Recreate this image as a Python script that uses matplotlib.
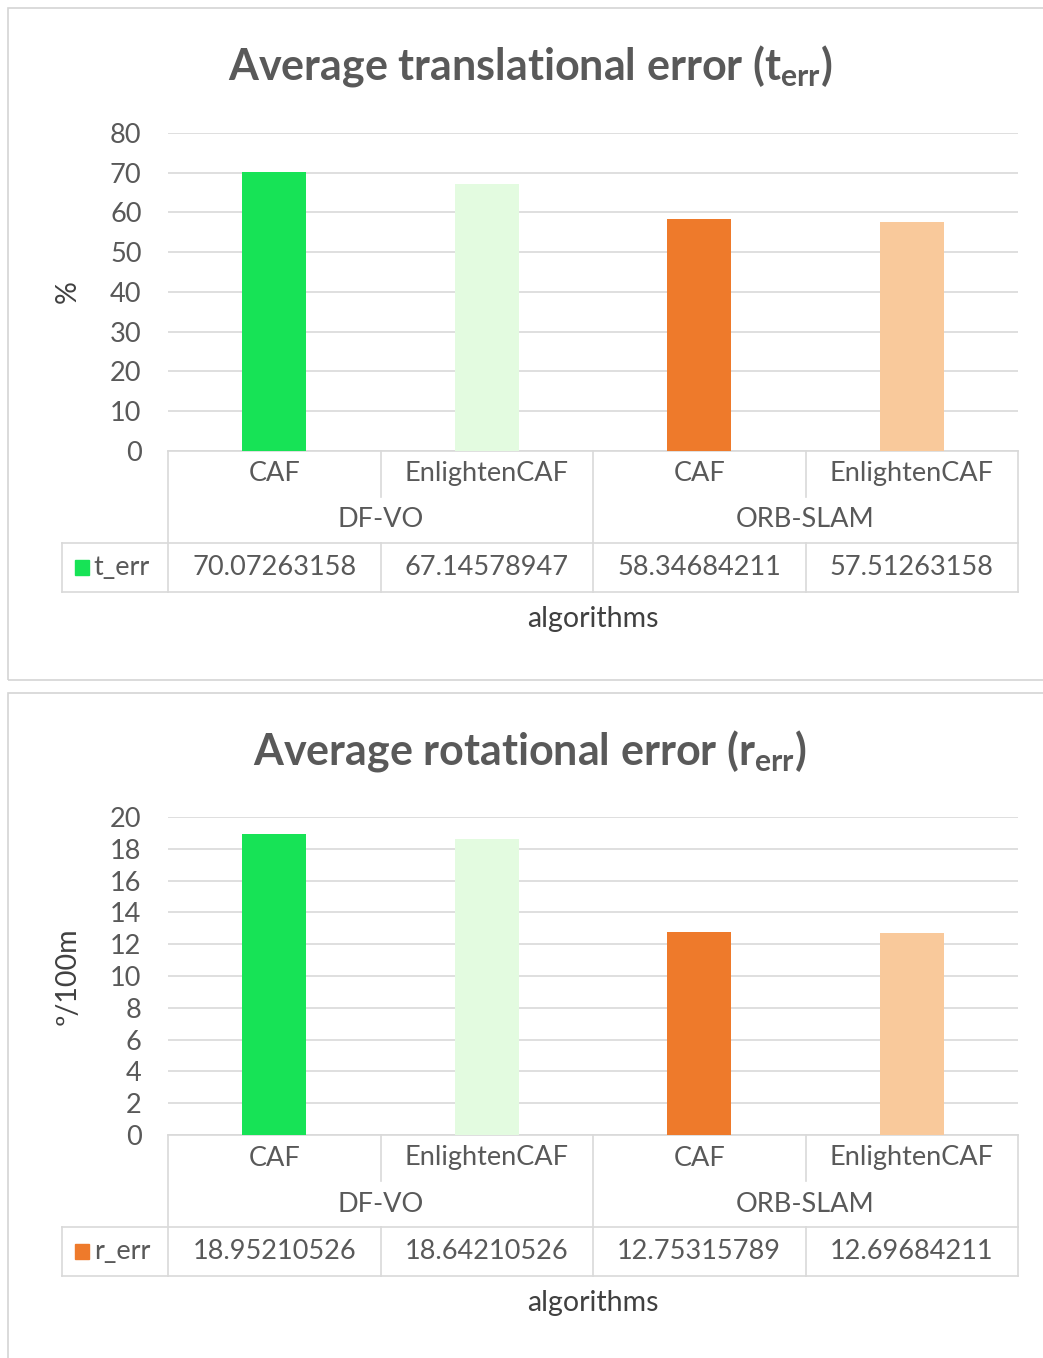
import matplotlib.pyplot as plt
from matplotlib.patches import Rectangle
from matplotlib.transforms import blended_transform_factory

plt.rcParams['font.family'] = ['Lato', 'DejaVu Sans']
plt.rcParams['mathtext.fontset'] = 'custom'
plt.rcParams['mathtext.rm'] = 'Lato'
plt.rcParams['mathtext.bf'] = 'Lato:bold'

models = ['CAF', 'EnlightenCAF', 'CAF', 'EnlightenCAF']
groups = ['DF-VO', 'ORB-SLAM']
t_err = [70.07263158, 67.14578947, 58.34684211, 57.51263158]
r_err = [18.95210526, 18.64210526, 12.75315789, 12.69684211]

green_colors = ['#17E356', '#E3FBE0']
orange_colors = ['#EE7A2B', '#F9C99B']
bar_colors = green_colors + orange_colors

TEXT = '#595959'
GRID = '#D9D9D9'
FS = 19.5

W, H = 1043, 1358
fig = plt.figure(figsize=(W / 100, H / 100), dpi=100)

# outer chart frames
for (x0, y0, x1, y1) in [(8, 8, 1060, 680), (8, 693, 1060, 1380)]:
    fig.patches.append(Rectangle((x0 / W, 1 - y1 / H), (x1 - x0) / W, (y1 - y0) / H,
                                 transform=fig.transFigure, fill=False,
                                 edgecolor='#D4D4D4', lw=1.2, clip_on=False))


def panel(top_px, title, ylabel, values, ymax, step, name, key_color, title_px):
    bot_px = top_px + 318
    ax = fig.add_axes([168 / W, 1 - bot_px / H, 850 / W, 318 / H])
    x = range(len(values))
    ax.bar(x, values, width=0.3, color=bar_colors, zorder=3)
    ax.set_xlim(-0.5, 3.5)
    ax.set_ylim(0, ymax)
    ax.set_yticks(range(0, ymax + 1, step))
    ax.yaxis.grid(True, color=GRID, lw=1.2, zorder=0)
    ax.tick_params(axis='y', length=0, labelsize=FS, labelcolor=TEXT, pad=19)
    ax.set_xticks([])
    for s in ax.spines.values():
        s.set_visible(False)

    tr = blended_transform_factory(ax.transData, ax.transAxes)
    rh = 46 / 318
    r1, r2, r3 = -rh, -2 * rh, -2 * rh - 49 / 318
    kw = dict(transform=tr, color=GRID, lw=1.2, clip_on=False)
    ax.plot([-0.5, 3.5], [0, 0], **kw)
    ax.plot([-1.0, 3.5], [r2, r2], **kw)
    ax.plot([-1.0, 3.5], [r3, r3], **kw)
    for xv in [-0.5, 1.5, 3.5]:
        ax.plot([xv, xv], [0, r3], **kw)
    for xv in [0.5, 2.5]:
        ax.plot([xv, xv], [0, r1], **kw)
        ax.plot([xv, xv], [r2, r3], **kw)
    ax.plot([-1.0, -1.0], [r2, r3], **kw)

    for i, m in enumerate(models):
        ax.text(i, r1 / 2, m, transform=tr, ha='center', va='center',
                fontsize=FS, color=TEXT)
        ax.text(i, (r2 + r3) / 2, f'{values[i]:.8f}', transform=tr,
                ha='center', va='center', fontsize=FS, color=TEXT)
    for g, name_g in enumerate(groups):
        ax.text(2 * g + 0.5, (r1 + r2) / 2, name_g, transform=tr,
                ha='center', va='center', fontsize=FS, color=TEXT)

    # legend key inside the table
    ax.add_patch(Rectangle((-0.94, (r2 + r3) / 2 - 0.024), 0.068, 0.048,
                           transform=tr, color=key_color, clip_on=False))
    ax.text(-0.85, (r2 + r3) / 2, name, transform=tr, ha='left', va='center',
            fontsize=FS, color=TEXT)

    ax.text(1.5, -168 / 318, 'algorithms', transform=tr,
            ha='center', va='center', fontsize=20.5, color='#404040')
    fig.text(68 / W, 1 - (top_px + 159) / H, ylabel, rotation=90, ha='center',
             va='center', fontsize=20.5, color='#404040')
    fig.text(530 / W, 1 - title_px / H, title, ha='center', va='center',
             fontsize=31, fontweight='bold', color=TEXT)
    return ax


panel(133, r'Average translational error (t$_{\mathbf{err}}$)', '%', t_err,
      80, 10, 't_err', green_colors[0], 66)
panel(817, r'Average rotational error (r$_{\mathbf{err}}$)', 'º/100m', r_err,
      20, 2, 'r_err', orange_colors[0], 751)

fig.savefig('out.png', dpi=100, facecolor='white')
